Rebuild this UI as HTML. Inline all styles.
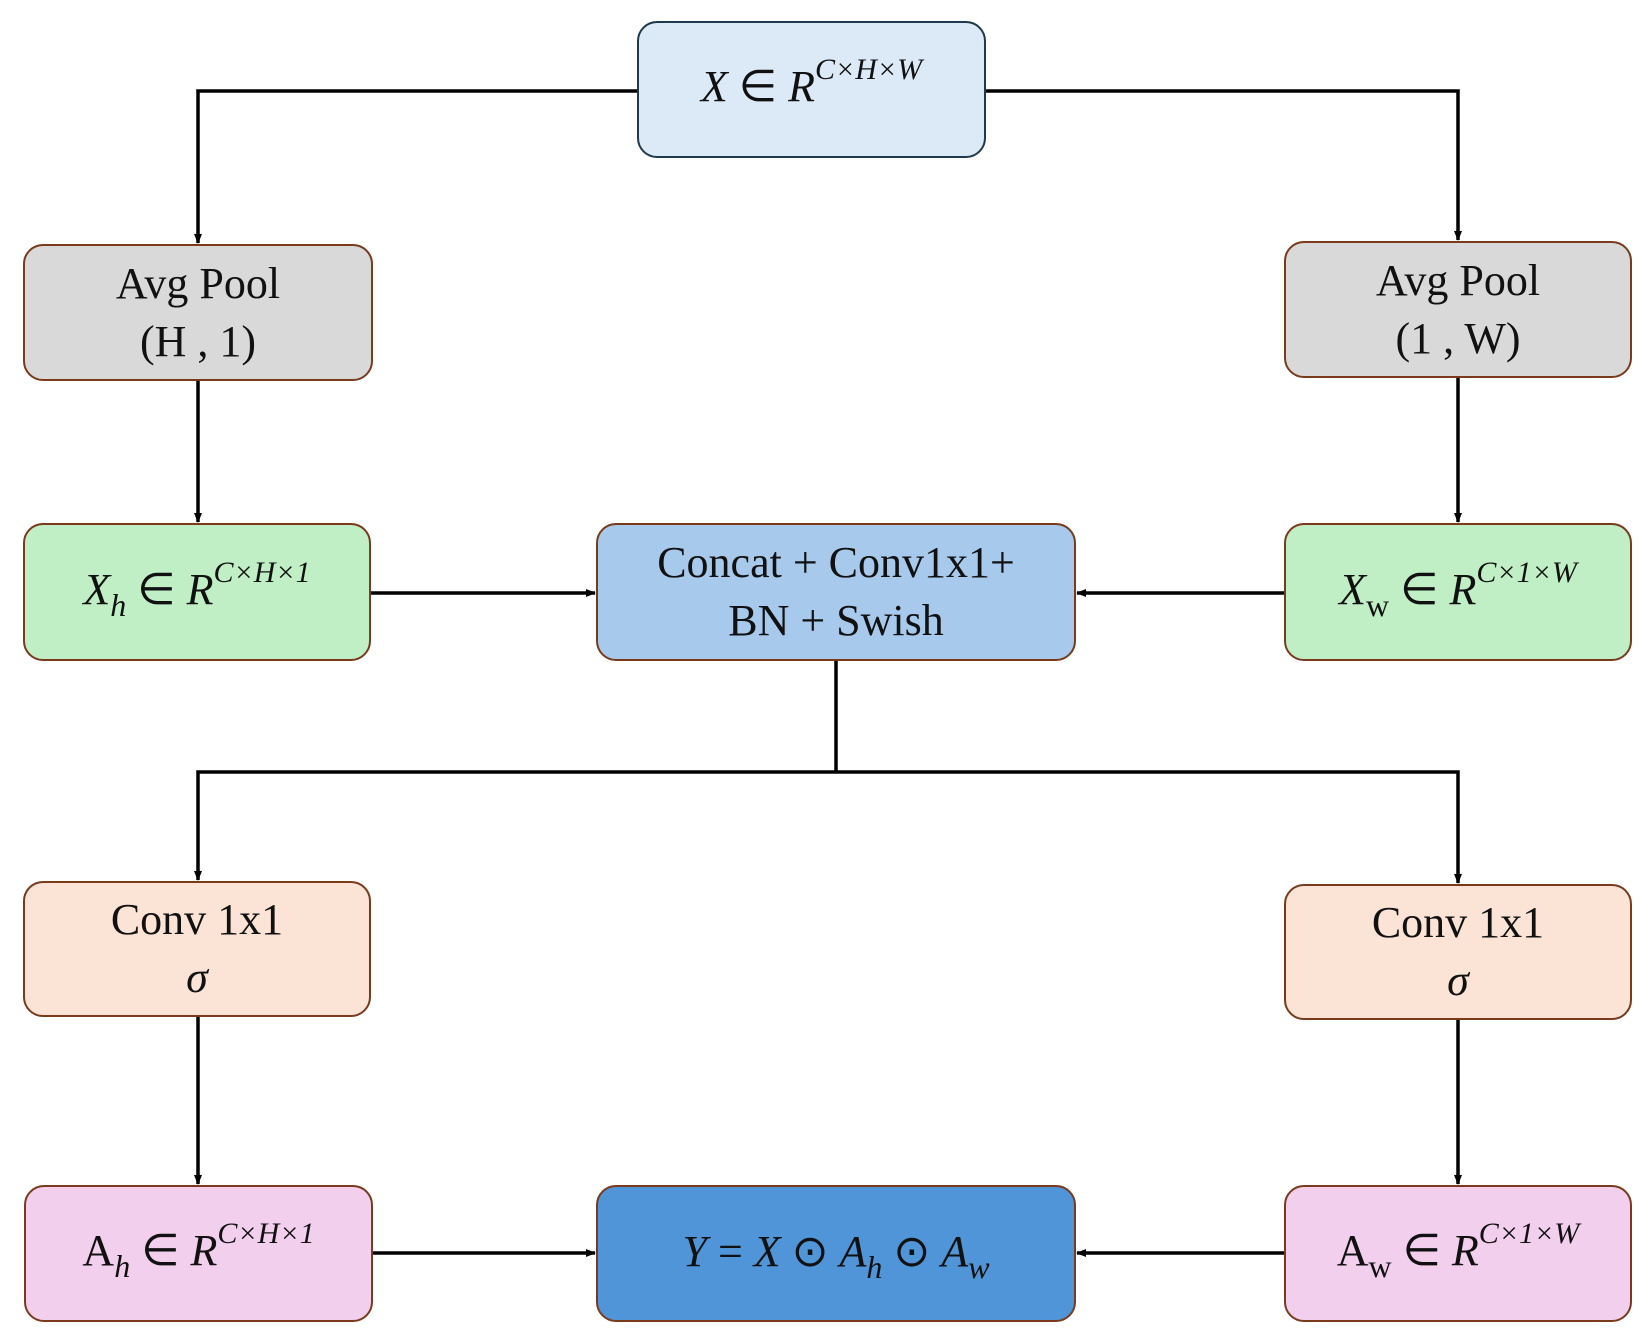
<!DOCTYPE html>
<html><head><meta charset="utf-8"><style>
body{margin:0;width:1651px;height:1341px;background:#fff;position:relative;overflow:hidden;font-family:"Liberation Serif",serif;}
.b{position:absolute;box-sizing:border-box;border:2.5px solid #7a3a1c;border-radius:20px;display:flex;flex-direction:column;align-items:center;justify-content:center;font-size:44px;line-height:58px;color:#111;text-align:center;white-space:nowrap;}
i{font-style:italic}
sup{font-size:30px;vertical-align:0;position:relative;top:-22px;font-style:italic}
sub{font-size:32px;vertical-align:0;position:relative;top:12px;font-style:italic}
svg{position:absolute;left:0;top:0}
</style></head><body>
<svg width="1651" height="1341">
<defs><marker id="a" markerWidth="10" markerHeight="10" refX="9" refY="5" orient="auto" markerUnits="userSpaceOnUse"><path d="M0,1 L10,5 L0,9 z" fill="#000"/></marker></defs>
<g stroke="#000" stroke-width="3.5" fill="none">
<polyline points="637,91 198,91 198,243" marker-end="url(#a)"/>
<polyline points="986,91 1458,91 1458,240" marker-end="url(#a)"/>
<line x1="198" y1="381" x2="198" y2="522" marker-end="url(#a)"/>
<line x1="1458" y1="378" x2="1458" y2="522" marker-end="url(#a)"/>
<line x1="371" y1="593" x2="595" y2="593" marker-end="url(#a)"/>
<line x1="1284" y1="593" x2="1077" y2="593" marker-end="url(#a)"/>
<line x1="836" y1="661" x2="836" y2="772"/>
<polyline points="836,772 198,772 198,880" marker-end="url(#a)"/>
<polyline points="836,772 1458,772 1458,883" marker-end="url(#a)"/>
<line x1="198" y1="1017" x2="198" y2="1184" marker-end="url(#a)"/>
<line x1="1458" y1="1020" x2="1458" y2="1184" marker-end="url(#a)"/>
<line x1="373" y1="1253" x2="595" y2="1253" marker-end="url(#a)"/>
<line x1="1284" y1="1253" x2="1077" y2="1253" marker-end="url(#a)"/>
</g></svg>
<div class="b" style="left:637px;top:21px;width:349px;height:137px;background:#dce9f7;border-color:#1f3a4a"><div><i>X</i> ∈ <i>R</i><sup>C×H×W</sup></div></div>
<div class="b" style="left:23px;top:244px;width:350px;height:137px;background:#d9d9d9"><div>Avg Pool</div><div>(H , 1)</div></div>
<div class="b" style="left:1284px;top:241px;width:348px;height:137px;background:#d9d9d9"><div>Avg Pool</div><div>(1 , W)</div></div>
<div class="b" style="left:23px;top:523px;width:348px;height:138px;background:#c1efc5"><div><i>X</i><sub>h</sub> ∈ <i>R</i><sup>C×H×1</sup></div></div>
<div class="b" style="left:596px;top:523px;width:480px;height:138px;background:#a7c9ec"><div>Concat + Conv1x1+</div><div>BN + Swish</div></div>
<div class="b" style="left:1284px;top:523px;width:348px;height:138px;background:#c1efc5"><div><i>X</i><sub style="font-style:normal">w</sub> ∈ <i>R</i><sup>C×1×W</sup></div></div>
<div class="b" style="left:23px;top:881px;width:348px;height:136px;background:#fbe3d6"><div>Conv 1x1</div><div><i>σ</i></div></div>
<div class="b" style="left:1284px;top:884px;width:348px;height:136px;background:#fbe3d6"><div>Conv 1x1</div><div><i>σ</i></div></div>
<div class="b" style="left:24px;top:1185px;width:349px;height:137px;background:#f1cfed"><div>A<sub>h</sub> ∈ <i>R</i><sup>C×H×1</sup></div></div>
<div class="b" style="left:596px;top:1185px;width:480px;height:137px;background:#4f95d8"><div><i>Y</i> = <i>X</i> ⊙ <i>A</i><sub>h</sub> ⊙ <i>A</i><sub>w</sub></div></div>
<div class="b" style="left:1284px;top:1185px;width:348px;height:137px;background:#f1cfed"><div>A<sub style="font-style:normal">w</sub> ∈ <i>R</i><sup>C×1×W</sup></div></div>
</body></html>
